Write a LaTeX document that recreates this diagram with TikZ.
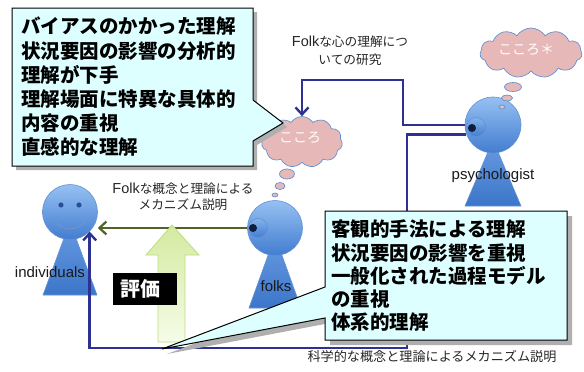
\documentclass[tikz,border=0pt]{standalone}
\usepackage{fontspec}
\setmainfont{Liberation Sans}
\newfontfamily\jp{Noto Sans CJK JP}
\newfontfamily\jps[Scale=0.875]{Noto Sans CJK JP}
\usetikzlibrary{arrows.meta,shapes.symbols,shapes.geometric}

\definecolor{boxfill}{RGB}{221,255,255}
\definecolor{shadowgray}{RGB}{175,175,175}
\definecolor{linkblue}{RGB}{46,49,146}
\definecolor{folkgreen}{RGB}{79,98,40}
\definecolor{cloudpink}{RGB}{230,185,184}
\definecolor{cloudline}{RGB}{100,145,210}
\definecolor{headtop}{RGB}{150,192,242}
\definecolor{headbot}{RGB}{66,125,208}
\definecolor{bodytop}{RGB}{105,155,225}
\definecolor{bodybot}{RGB}{60,118,202}
\definecolor{headline}{RGB}{100,145,210}
\definecolor{pupil}{RGB}{15,30,60}
\definecolor{facedot}{RGB}{40,80,150}
\definecolor{arrowtop}{RGB}{212,234,160}
\definecolor{arrowbot}{RGB}{246,252,232}
\definecolor{arrowline}{RGB}{190,220,130}

\tikzset{
  head/.style={circle, minimum size=55pt, inner sep=0pt, draw=headline,
    line width=0.6pt, top color=headtop, bottom color=headbot},
  body/.style={draw=headline, line width=0.6pt, top color=bodytop, bottom color=bodybot},
  eyering/.style={circle, draw=headline, line width=0.6pt, top color=headtop!80!headbot,
    bottom color=headbot, minimum size=19pt, inner sep=0pt},
  thought/.style={draw=cloudline, fill=cloudpink, line width=0.7pt},
  cloudbox/.style={cloud, cloud puffs=11, cloud puff arc=115, cloud ignores aspect,
    thought, inner sep=0pt, text=white, font=\jp\fontsize{14}{14}\selectfont},
  link/.style={linkblue, line width=2.8pt,
    -{Straight Barb[length=7pt,width=13pt,line width=2.4pt]}},
  folklink/.style={folkgreen, line width=2.6pt,
    -{Straight Barb[length=7pt,width=13pt,line width=2.2pt]}},
  callout/.style={fill=boxfill, draw=black, line width=1pt},
  calloutshadow/.style={fill=shadowgray},
  linklabel/.style={font=\fontsize{14.5}{18}\selectfont, align=center, text=black!85},
  bigtext/.style={font=\jp\bfseries\fontsize{19.5}{24.2}\selectfont, align=left,
    inner sep=0pt, anchor=north west},
  personlabel/.style={font=\fontsize{15}{15}\selectfont, text=black!90, inner sep=0pt},
}

\begin{document}
\begin{tikzpicture}[x=1pt,y=-1pt]
\useasboundingbox (0,0) rectangle (584,372);

% ---------- bodies ----------
\path[body] (70,222) -- (97,295) -- (43,295) -- cycle;
\path[body] (275,236) -- (301,308) -- (249,308) -- cycle;
\path[body] (493,140) -- (521,206) -- (465,206) -- cycle;

% ---------- heads ----------
\node[head] (indhead) at (70,212) {};
\node[head] (folkhead) at (275,228) {};
\node[head, minimum size=56pt] (psyhead) at (493,125) {};

% face of the individual
\fill[facedot] (61,205) circle (2.6);
\fill[facedot] (79,205) circle (2.6);
\draw[facedot!60, line width=0.6pt] (56,223) .. controls (63,231) and (77,231) .. (85,222);

% eyes of the observers
\node[eyering] (folkeye) at (258,228) {};
\fill[pupil] (253,228) circle (4);
\node[eyering] (psyeye) at (476,127) {};
\fill[pupil] (472,128) circle (4);

% ---------- person labels ----------
\node[personlabel] (indlab) at (50,272) {individuals};
\node[personlabel] (folklab) at (276,286) {folks};
\node[personlabel] (psylab) at (493,176) {psychologist};

% ---------- thought clouds ----------
\node[cloudbox, minimum width=81pt, minimum height=51pt] (kokoro) at (302,142) {};
\node[text=white, font=\jp\fontsize{14}{14}\selectfont, inner sep=0pt] (kokorotext) at (300,138) {こころ};
\path[thought] (287,174) ellipse (7.5 and 5);
\path[thought] (280,186) ellipse (5 and 3.5);
\path[thought] (275,195) ellipse (3 and 2);

\node[cloudbox, minimum width=102pt, minimum height=50pt] (kokorostar) at (531,53) {};
\node[text=white, font=\jp\fontsize{14}{14}\selectfont, inner sep=0pt] (kokorostartext) at (526,50) {こころ＊};
\path[thought] (513,87) ellipse (8.5 and 4.5);
\path[thought] (507,98) ellipse (5.5 and 3);
\path[thought] (502,107) ellipse (3 and 2);

% ---------- connectors ----------
\coordinate (upturn) at (403,80);
\coordinate (downturn) at (407,348);
\draw[link] (psyhead.west) -| (upturn) -| (kokoro.north);
\draw[link] (psyhead.200) -| (downturn) -| (indhead.south east);
\draw[folklink] (folkhead.west) -- (folkhead.west -| indhead.east);

\node[linklabel] (studylab) at (350,51) {Folk{\jps な心の理解につ}\\{\jps いての研究}};
\node[linklabel, font=\fontsize{14.5}{16}\selectfont] (folklab2) at (183,197)
  {Folk{\jps な概念と理論による}\\{\jps メカニズム説明}};
\node[font=\jps\fontsize{15}{15}\selectfont, text=black!85] (scilab) at (432,356)
  {科学的な概念と理論によるメカニズム説明};

% ---------- evaluation arrow ----------
\path[draw=arrowline, line width=0.8pt, top color=arrowtop, bottom color=arrowbot]
  (158,342) -- (158,255) -- (146,255) -- (172,225) -- (199,255) -- (185,255) -- (185,342) -- cycle;
\node[fill=black, minimum width=64pt, minimum height=32pt, inner sep=0pt] (hyoka) at (145,289) {};
\node[text=white, font=\jp\bfseries\fontsize{20}{20}\selectfont, inner sep=0pt] (hyokatext) at (140,289) {評価};

% ---------- callout: folk understanding ----------
\path[calloutshadow, shift={(4,4)}]
  (12,8) -- (253,8) -- (253,100) -- (283,123) -- (253,141) -- (253,166) -- (12,166) -- cycle;
\path[callout]
  (12,8) -- (253,8) -- (253,100) -- (283,123) -- (253,141) -- (253,166) -- (12,166) -- cycle;
\node[bigtext] (folktext) at (21,17)
  {バイアスのかかった理解\\状況要因の影響の分析的\\理解が下手\\理解場面に特異な具体的\\内容の重視\\直感的な理解};

% ---------- callout: scientific understanding ----------
\path[calloutshadow, shift={(5,5)}]
  (325,211) -- (567,211) -- (567,340) -- (325,340) -- (325,318) -- (162,349) -- (325,287) -- cycle;
\path[callout]
  (325,211) -- (567,211) -- (567,340) -- (325,340) -- (325,318) -- (162,349) -- (325,287) -- cycle;
\node[bigtext, font=\jp\bfseries\fontsize{19.5}{23.2}\selectfont] (scitext) at (331,220)
  {客観的手法による理解\\状況要因の影響を重視\\一般化された過程モデル\\の重視\\体系的理解};

\end{tikzpicture}
\end{document}
